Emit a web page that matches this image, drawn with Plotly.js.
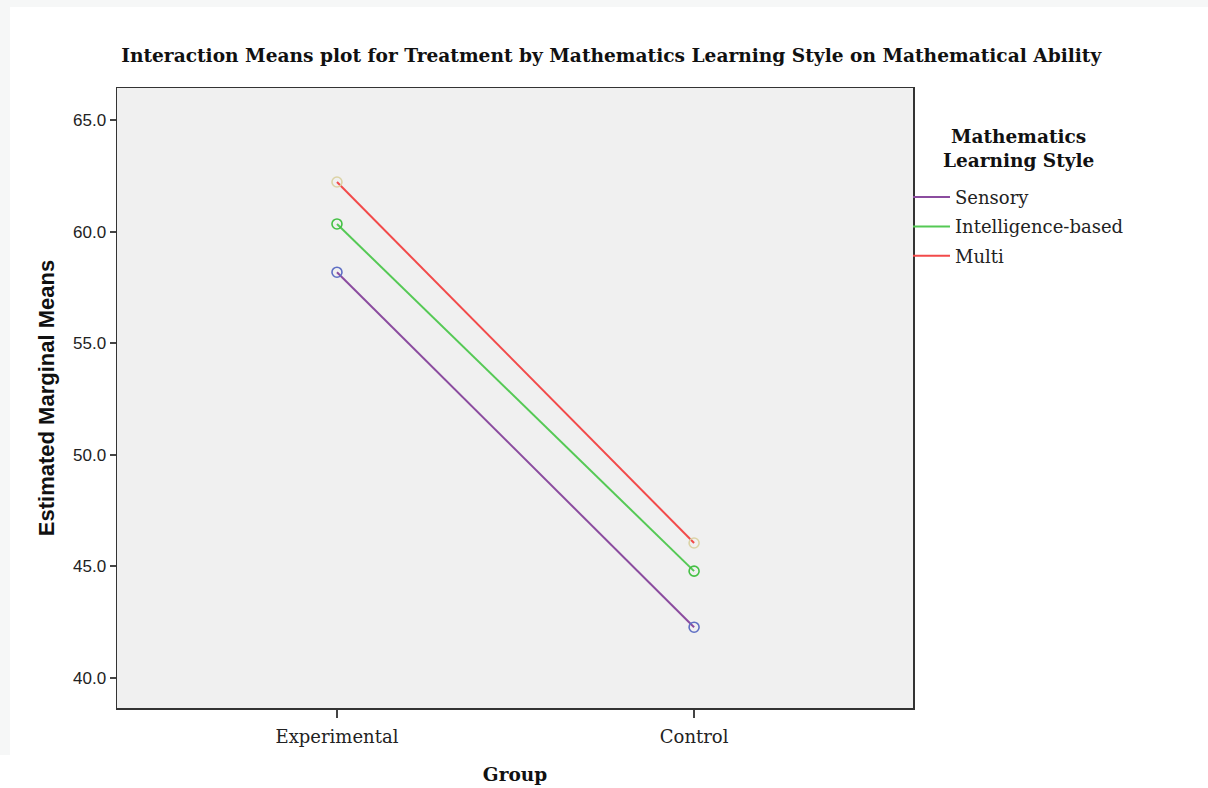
<!DOCTYPE html>
<html>
<head>
<meta charset="utf-8">
<script src="https://cdn.plot.ly/plotly-3.0.1.min.js"></script>
<style>
  html, body { margin: 0; padding: 0; background: #ffffff; }
  #chart { position: absolute; left: 0; top: 0; width: 1208px; height: 788px; }
  .strip { position: absolute; background: #f6f7f7; }
</style>
</head>
<body>
<div id="chart"></div>
<div class="strip" style="left:0;top:0;width:1208px;height:7px;"></div>
<div class="strip" style="left:0;top:7px;width:10px;height:748px;"></div>
<script>
// Data
const groups = ["Experimental", "Control"];
const styles = ["Sensory", "Intelligence-based", "Multi"];
const sensory = [58.18, 42.28];
const intelligence = [60.34, 44.79];
const multi = [62.22, 46.05];
const yTickVals = [40, 45, 50, 55, 60, 65];
const yTickText = ["40.0", "45.0", "50.0", "55.0", "60.0", "65.0"];
const legendTitle = "Mathematics<br>Learning Style";

const seriesValues = [sensory, intelligence, multi];
const lineColors = ["#8b4c9f", "#55c955", "#f24a4a"];
const markerColors = ["#5f6fc4", "#45c045", "#dcd3a6"];

const traces = [];
styles.forEach((name, i) => {
  traces.push({
    x: groups, y: seriesValues[i], name: name, type: "scatter", mode: "lines",
    legendgroup: "g" + i,
    line: { color: lineColors[i], width: 2 }, showlegend: true, hoverinfo: "x+y+name"
  });
});
styles.forEach((name, i) => {
  traces.push({
    x: groups, y: seriesValues[i], name: name, type: "scatter", mode: "markers",
    legendgroup: "g" + i,
    marker: { symbol: "circle-open", size: 10, color: markerColors[i], line: { width: 1.6 } },
    showlegend: false, hoverinfo: "skip"
  });
});

const layout = {
  width: 1208, height: 788,
  margin: { l: 117, r: 295, t: 88, b: 80 },
  paper_bgcolor: "#ffffff",
  plot_bgcolor: "#f0f0f0",
  title: {
    text: "Interaction Means plot for Treatment by Mathematics Learning Style on Mathematical Ability",
    font: { family: "DejaVu Serif", size: 18.6, color: "#111111", weight: "bold" },
    x: 0.506, xref: "container", xanchor: "center",
    y: 0.93, yref: "container", yanchor: "middle"
  },
  xaxis: {
    type: "category",
    range: [-0.616, 1.613],
    showgrid: false, zeroline: false,
    showline: true, mirror: true, linecolor: "#333333", linewidth: 1.5,
    ticks: "outside", ticklen: 8, tickwidth: 2, tickcolor: "#444444",
    ticklabelstandoff: 4,
    tickfont: { family: "DejaVu Serif", size: 18, color: "#222222" },
    title: { text: "Group", font: { family: "DejaVu Serif", size: 18.5, color: "#111111", weight: "bold" }, standoff: 22 }
  },
  yaxis: {
    range: [38.66, 66.43],
    tickvals: yTickVals, ticktext: yTickText,
    showgrid: false, zeroline: false,
    showline: true, mirror: true, linecolor: "#333333", linewidth: 1.5,
    ticks: "outside", ticklen: 6, tickwidth: 2, tickcolor: "#444444",
    tickfont: { family: "Liberation Sans", size: 17, color: "#222222" },
    title: { text: "Estimated Marginal Means", font: { family: "Liberation Sans", size: 22, color: "#111111", weight: "bold" }, standoff: 12 }
  },
  legend: {
    x: 0.9937, xanchor: "left", y: 0.8535, yanchor: "top",
    bgcolor: "rgba(0,0,0,0)", borderwidth: 0,
    itemwidth: 37,
    font: { family: "DejaVu Serif", size: 18, color: "#222222" },
    tracegroupgap: 3
  },
  annotations: [{
    text: legendTitle, xref: "paper", yref: "paper",
    x: 1.132, y: 0.903, xanchor: "center", yanchor: "middle", align: "center",
    showarrow: false,
    font: { family: "DejaVu Serif", size: 18.5, color: "#111111", weight: "bold" }
  }],
  showlegend: true
};

Plotly.newPlot("chart", traces, layout, { displayModeBar: false, staticPlot: true });
</script>
</body>
</html>
